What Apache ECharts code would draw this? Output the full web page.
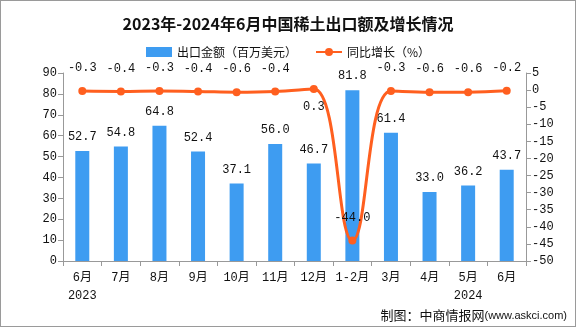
<!DOCTYPE html>
<html><head><meta charset="utf-8">
<script src="https://cdn.jsdelivr.net/npm/echarts@6/dist/echarts.min.js"></script>
<style>html,body{margin:0;padding:0;background:#fff}#c{width:576px;height:327px;box-sizing:border-box;border:1px solid #9a9a9a}</style>
</head><body><div id="c"></div>
<script>
const categories = ['6月\n2023','7月','8月','9月','10月','11月','12月','1-2月','3月','4月','5月\n2024','6月'];
const exportValues = [52.7,54.8,64.8,52.4,37.1,56.0,46.7,81.8,61.4,33.0,36.2,43.7];
const growthValues = [-0.3,-0.4,-0.3,-0.4,-0.6,-0.4,0.3,-44.0,-0.3,-0.6,-0.6,-0.2];
const leftTicks = {min:0,max:90,interval:10};
const rightTicks = {min:-50,max:5,interval:5};

const mono = "'Liberation Mono','Noto Sans CJK SC'";
const chart = echarts.init(document.getElementById('c'));
chart.setOption({
  animation:false,
  title:{text:'2023年-2024年6月中国稀土出口额及增长情况',left:'center',top:10,
    textStyle:{fontSize:16,fontWeight:'bold',color:'#111',fontFamily:"'Noto Sans CJK SC'"}},
  legend:{top:40,left:'center',itemGap:18,itemWidth:26,itemHeight:10,
    textStyle:{fontSize:12,color:'#111',fontFamily:"'Noto Sans CJK SC'"},
    data:[{name:'出口金额（百万美元）',icon:'rect'},{name:'同比增长（%）'}]},
  grid:{left:62,right:49,top:72,bottom:65},
  xAxis:{type:'category',data:categories,
    axisLine:{lineStyle:{color:'#999'}},
    axisTick:{show:true,alignWithLabel:false,lineStyle:{color:'#999'}},
    axisLabel:{color:'#111',fontSize:12,fontFamily:mono,interval:0,lineHeight:18,margin:8}},
  yAxis:[
    {type:'value',min:leftTicks.min,max:leftTicks.max,interval:leftTicks.interval,
     splitLine:{show:false},axisLine:{show:true,lineStyle:{color:'#999'}},
     axisTick:{show:true,lineStyle:{color:'#999'}},
     axisLabel:{color:'#111',fontSize:12,fontFamily:mono,margin:6}},
    {type:'value',min:rightTicks.min,max:rightTicks.max,interval:rightTicks.interval,
     splitLine:{show:false},axisLine:{show:true,lineStyle:{color:'#999'}},
     axisTick:{show:true,lineStyle:{color:'#999'}},
     axisLabel:{color:'#111',fontSize:12,fontFamily:mono,margin:6}}
  ],
  series:[
    {name:'出口金额（百万美元）',type:'bar',data:exportValues,barWidth:14,
     itemStyle:{color:'#3E9CF1'},
     label:{show:true,position:'top',distance:8,color:'#111',fontSize:12,fontFamily:mono,
       formatter:p=>p.value.toFixed(1)}},
    {name:'同比增长（%）',type:'line',yAxisIndex:1,data:growthValues.map((v,i)=>i===6?{value:v,label:{position:'bottom',distance:8}}:v),
     smooth:0.4,symbol:'circle',symbolSize:8,
     lineStyle:{color:'#FF5F1F',width:3},itemStyle:{color:'#FF5F1F'},
     label:{show:true,position:'top',distance:13,color:'#111',fontSize:12,fontFamily:mono,
       formatter:p=>p.value.toFixed(1)}}
  ],
  graphic:[{type:'text',right:8,bottom:4,
    style:{text:'{a|制图：中商情报网}{b|(www.askci.com)}',
      rich:{a:{fontSize:13,fontFamily:"'Noto Sans CJK SC'",fill:'#111'},
            b:{fontSize:11,fontFamily:"'Liberation Sans'",fill:'#111'}}}}]
});
</script></body></html>
